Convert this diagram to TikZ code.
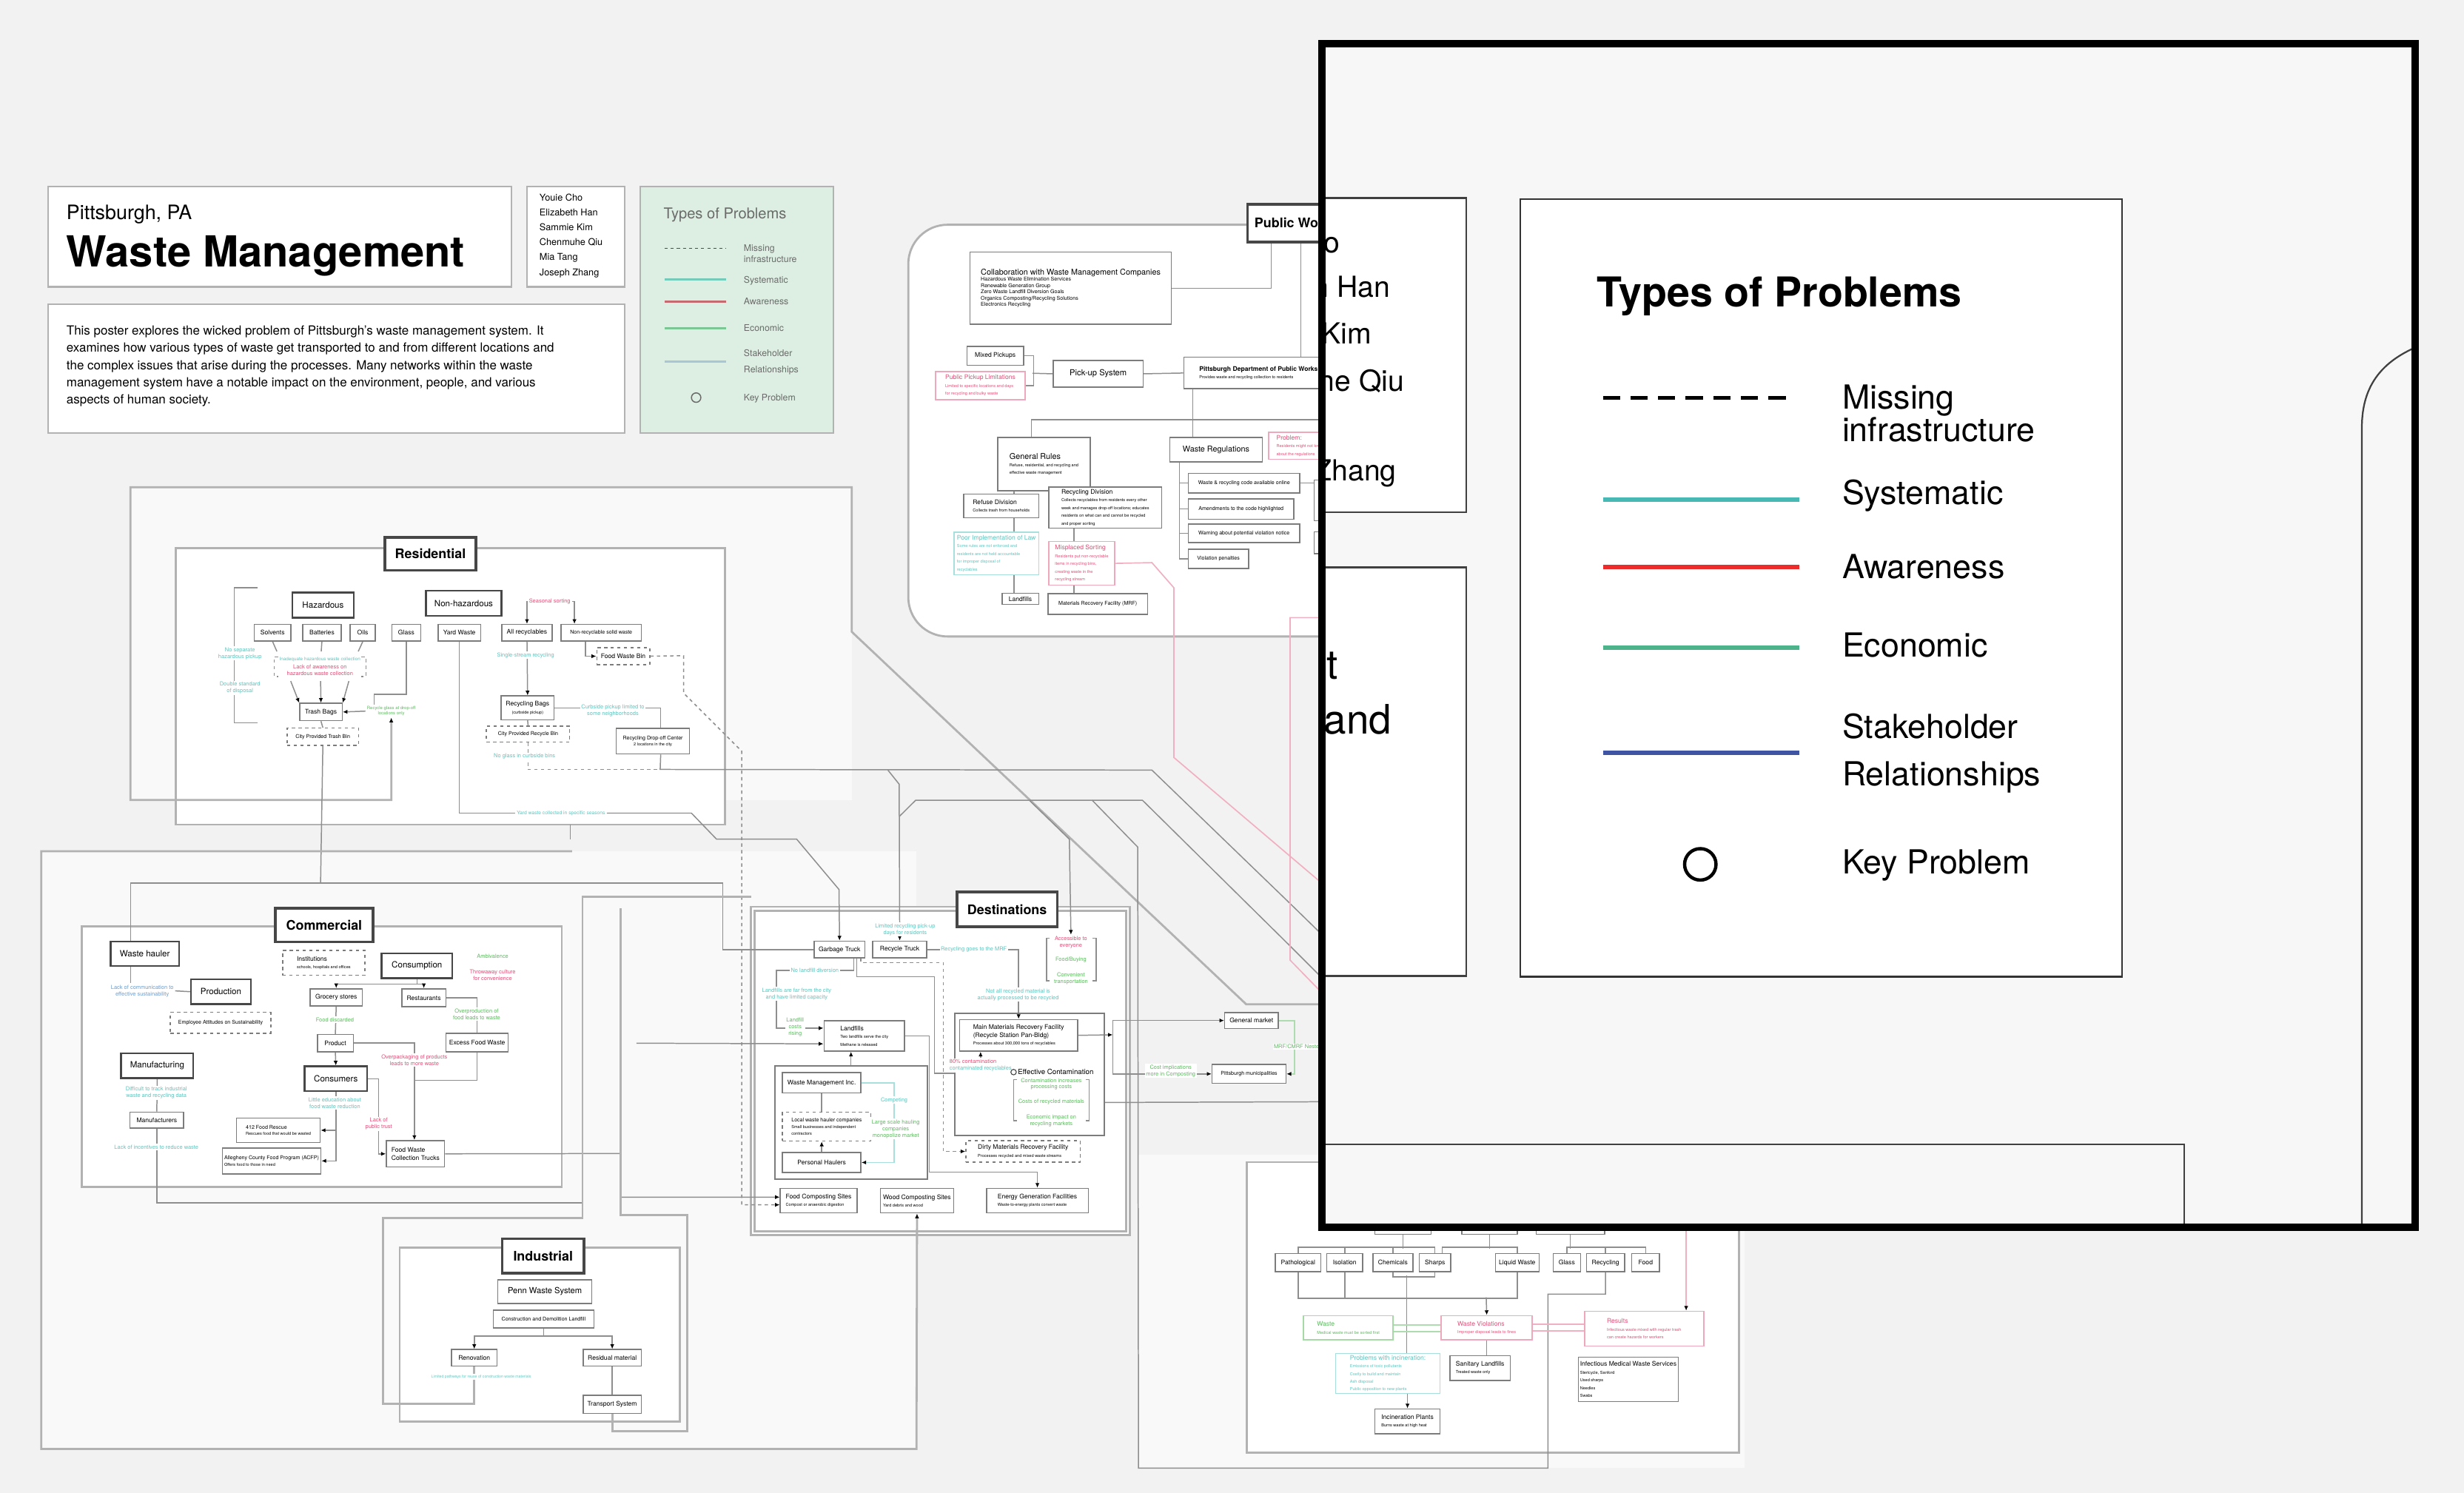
\documentclass[tikz,border=0pt]{standalone}
\usepackage{fontspec}
\setmainfont{TeX Gyre Heros}
\usetikzlibrary{positioning,arrows.meta}
\pgfdeclarelayer{back}
\pgfdeclarelayer{wires}
\pgfsetlayers{back,wires,main}
\definecolor{bgpage}{HTML}{F1F2F1}
\definecolor{framegray}{HTML}{B2B2B2}
\definecolor{linegray}{HTML}{8E8E8E}
\definecolor{boxgray}{HTML}{7C7C7C}
\definecolor{headgray}{HTML}{474747}
\definecolor{systeal}{HTML}{5EC4BE}
\definecolor{awred}{HTML}{DF4F78}
\definecolor{ecogreen}{HTML}{5CBA5E}
\definecolor{stakeblue}{HTML}{6E9CC9}
\definecolor{legfill}{HTML}{DCEFE2}
\definecolor{leggray}{HTML}{6B6B6B}
\definecolor{legteal}{HTML}{74CBB9}
\definecolor{legred}{HTML}{C66A71}
\definecolor{leggreen}{HTML}{7CC595}
\definecolor{legblue}{HTML}{A9C6D4}
\definecolor{insteal}{HTML}{48B8B4}
\definecolor{insred}{HTML}{EE2B2B}
\definecolor{insgreen}{HTML}{4DB38A}
\definecolor{insblue}{HTML}{3F55A4}
\newcommand{\dtl}{\fontsize{1.5}{1.9}\selectfont}

\begin{document}
\begin{tikzpicture}[x=0.02cm,y=-0.02cm,
    nw/.style={anchor=north west},
    wh/.style 2 args={minimum width=#1*0.02cm,minimum height=#2*0.02cm},
    frm/.style={draw=framegray,line width=0.75pt},
    ln/.style={draw=linegray,line width=0.4pt},
    dln/.style={ln,dash pattern=on 1.2pt off 1.2pt},
    pln/.style={draw=awred!45,line width=0.45pt},
    gln/.style={draw=ecogreen!50,line width=0.5pt},
    tln/.style={draw=systeal!55,line width=0.4pt},
    arr/.style={-{Latex[length=1.7pt,width=1.5pt,color=black]}},
    box/.style={draw=boxgray,fill=white,line width=0.4pt,inner sep=0.6pt,align=center,font=\fontsize{2.3}{2.8}\selectfont},
    boxb/.style={box,draw=headgray,line width=0.65pt,font=\fontsize{3.1}{3.7}\selectfont},
    hbox/.style={box,draw=headgray,line width=1pt,font=\fontsize{4.8}{5.6}\selectfont\bfseries},
    dbox/.style={box,dash pattern=on 1.2pt off 1.2pt},
    rbox/.style={box,draw=awred!50,text=awred},
    tbox/.style={box,draw=systeal!55,text=systeal},
    gbox/.style={box,draw=ecogreen!55,text=ecogreen},
    grp/.style={draw=boxgray,line width=0.55pt,inner sep=0},
    tny/.style={font=\fontsize{1.9}{2.3}\selectfont},
    tnote/.style={fill=white,inner sep=0.4pt,align=center,text=systeal,font=\fontsize{2}{2.4}\selectfont},
    rnote/.style={tnote,text=awred},
    gnote/.style={tnote,text=ecogreen},
    bnote/.style={tnote,text=stakeblue},
    panel/.style={draw=framegray,fill=white,line width=0.6pt},
    leglbl/.style={anchor=base west,inner sep=0,text=leggray,font=\fontsize{3.3}{4}\selectfont},
    biglbl/.style={anchor=base west,inner sep=0,font=\fontsize{12}{14}\selectfont},
    inname/.style={anchor=base east,inner sep=0,font=\fontsize{10.5}{12}\selectfont},
    keyc/.style={draw=headgray,circle,inner sep=0,minimum size=0.07cm,line width=0.3pt}]

\useasboundingbox (0,0) rectangle (1568,950);
\begin{pgfonlayer}{back}
\fill[bgpage] (0,0) rectangle (1568,950);
\fill[white!55!bgpage] (83,310) rectangle (542,509);
\fill[white!55!bgpage] (26.3,541.7) rectangle (583,922);
\fill[white!55!bgpage] (724.5,734.8) rectangle (1110,934.2);
\draw[frm,fill=white,rounded corners=0.5cm] (860,143) -- (578,143) -- (578,405) -- (860,405);
\draw[frm,fill=white] (112,348.6) rectangle (461.4,524.7);
\draw[frm,fill=white] (52.1,589.6) rectangle (357.5,755.2);
\draw[frm,fill=white] (254.3,793.7) rectangle (432.5,904.4);
\draw[frm,fill=white] (477.7,577) rectangle (719,785.8);
\draw[frm] (480.3,579.4) rectangle (716.6,783.5);
\draw[frm,fill=white] (793.5,739.5) rectangle (1106.7,924.5);
\end{pgfonlayer}

\node[panel,nw,wh={295}{64}] (titlebox) at (30,118) {};
\node[anchor=base west,inner sep=0,font=\fontsize{7.2}{8}\selectfont] (city) at (42,139.5) {Pittsburgh, PA};
\node[anchor=base west,inner sep=0,font=\fontsize{15.5}{17}\selectfont\bfseries] (maintitle) at (42,170) {Waste Management};
\node[panel,nw,wh={62}{64}] (namebox) at (335,118) {};
\node[nw,inner sep=0,align=left,font=\fontsize{3.4}{5.4}\selectfont] (names) at (343,123) {Youie Cho\\Elizabeth Han\\Sammie Kim\\Chenmuhe Qiu\\Mia Tang\\Joseph Zhang};
\node[panel,nw,wh={367}{82}] (descbox) at (30,193) {};
\node[nw,inner sep=0,align=left,font=\fontsize{4.55}{6.25}\selectfont] (desc) at (42,207) {This poster explores the wicked problem of Pittsburgh's waste management system. It\\examines how various types of waste get transported to and from different locations and\\the complex issues that arise during the processes. Many networks within the waste\\management system have a notable impact on the environment, people, and various\\aspects of human society.};

\node[nw,draw=framegray,fill=legfill,line width=0.6pt,wh={123}{157}] (legend) at (407,118) {};
\node[anchor=base west,inner sep=0,text=leggray,font=\fontsize{5.4}{6}\selectfont] (legtitle) at (422,139) {Types of Problems};
\draw[black!70,line width=0.45pt,dash pattern=on 1.1pt off 1.1pt] (423,158) -- (462,158);
\node[leglbl] (lg1) at (473,160) {Missing};
\node[leglbl] (lg2) at (473,167) {infrastructure};
\draw[legteal,line width=0.8pt] (423,178) -- (462,178);
\node[leglbl] (lg3) at (473,180) {Systematic};
\draw[legred,line width=0.8pt] (423,192) -- (462,192);
\node[leglbl] (lg4) at (473,194) {Awareness};
\draw[leggreen,line width=0.8pt] (423,209) -- (462,209);
\node[leglbl] (lg5) at (473,211) {Economic};
\draw[legblue,line width=0.9pt] (423,230) -- (462,230);
\node[leglbl] (lg6) at (473,227) {Stakeholder};
\node[leglbl] (lg7) at (473,237) {Relationships};
\draw[leggray,line width=0.4pt] (443,253) circle [radius=0.06cm];
\node[leglbl] (lg8) at (473,255) {Key Problem};

\begin{scope}
\clip (0,0) rectangle (841,950);
\node[hbox,nw,wh={62}{24},text depth=0pt] (pw) at (793,129) {Public Works};
\end{scope}
\node[box,nw,wh={128}{46},align=left,tny] (collab) at (617,160) {{\fontsize{2.9}{3.5}\selectfont Collaboration with Waste Management Companies}\\Hazardous Waste Elimination Services\\Renewable Generation Group\\Zero Waste Landfill Diversion Goals\\Organics Composting/Recycling Solutions\\Electronics Recycling};
\node[box,nw,wh={36}{12}] (mixed) at (615,220) {Mixed Pickups};
\node[rbox,nw,wh={57}{18},align=left] (pubpick) at (595,236) {Public Pickup Limitations\\{\dtl Limited to specific locations and days}\\{\dtl for recycling and bulky waste}};
\node[box,nw,wh={57}{17},font=\fontsize{3}{3.6}\selectfont] (pickup) at (670,229) {Pick-up System};
\node[box,nw,wh={95}{20},align=left] (pghdpw) at (753,227) {\textbf{Pittsburgh Department of Public Works}\\{\dtl Provides waste and recycling collection to residents}};
\node[box,nw,wh={59}{34},align=left] (genrules) at (634.5,278) {{\fontsize{2.9}{3.5}\selectfont General Rules}\\{\dtl Refuse, residential, and recycling and}\\{\dtl effective waste management}};
\node[box,nw,wh={59}{15.5},font=\fontsize{2.9}{3.5}\selectfont] (wasteregs) at (744,278) {Waste Regulations};
\node[rbox,nw,wh={40}{17.4},align=left] (problem) at (807,274.6) {Problem:\\{\dtl Residents might not know}\\{\dtl about the regulations}};
\node[box,nw,wh={47.6}{15},align=left] (refuse) at (613,314) {Refuse Division\\{\dtl Collects trash from households}};
\node[box,nw,wh={72}{26.2},align=left] (recdiv) at (667,309.5) {Recycling Division\\{\dtl Collects recyclables from residents every other}\\{\dtl week and manages drop-off locations; educates}\\{\dtl residents on what can and cannot be recycled}\\{\dtl and proper sorting}};
\node[tbox,nw,wh={54}{27},align=left] (poorimpl) at (606.7,338.4) {Poor Implementation of Law\\{\dtl Some rules are not enforced and}\\{\dtl residents are not held accountable}\\{\dtl for improper disposal of}\\{\dtl recyclables}};
\node[rbox,nw,wh={42}{27.7},align=left] (misplaced) at (667,344.3) {Misplaced Sorting\\{\dtl Residents put non-recyclable}\\{\dtl items in recycling bins,}\\{\dtl creating waste in the}\\{\dtl recycling stream}};
\node[box,nw,wh={23.3}{7}] (pwland) at (637.3,377.2) {Landfills};
\node[box,nw,wh={63.5}{13},tny] (pwmrf) at (666.5,377.5) {Materials Recovery Facility (MRF)};
\node[box,nw,wh={71}{12.5},tny] (reg1) at (755.8,300.8) {Waste \& recycling code available online};
\node[box,nw,wh={67.2}{13},tny] (reg2) at (755.8,317) {Amendments to the code highlighted};
\node[box,nw,wh={71}{11.8},tny] (reg3) at (755.8,333.2) {Warning about potential violation notice};
\node[box,nw,wh={38.4}{12.1},tny] (reg4) at (755.8,349.2) {Violation penalties};
\node[box,nw,wh={20}{26}] (regr1) at (836,305) {};
\node[box,nw,wh={20}{14}] (regr2) at (836,338) {};

\node[hbox,nw,wh={58}{21}] (restitle) at (244,341) {Residential};
\node[boxb,nw,wh={39}{16}] (hazard) at (185.5,376.5) {Hazardous};
\node[boxb,nw,wh={48}{16}] (nonhaz) at (270.5,375.3) {Non-hazardous};
\node[box,nw,wh={23.4}{10.5}] (solv) at (161.4,397) {Solvents};
\node[box,nw,wh={24.6}{10.5}] (batt) at (192.2,397) {Batteries};
\node[box,nw,wh={16}{10.5}] (oils) at (222.5,397) {Oils};
\node[box,nw,wh={18.2}{10.5}] (glass) at (249.1,397) {Glass};
\node[box,nw,wh={27.1}{10.5}] (yard) at (278.4,397) {Yard Waste};
\node[box,nw,wh={32}{10.5}] (allrec) at (319,397) {All recyclables};
\node[box,nw,wh={51}{10.5},tny] (nonrec) at (356.7,397) {Non-recyclable solid waste};
\node[dbox,nw,wh={33.7}{11}] (foodbin) at (379.4,411.7) {Food Waste Bin};
\node[box,nw,wh={27}{11}] (trashbag) at (190.4,447.2) {Trash Bags};
\node[dbox,nw,wh={45.6}{10.9},tny] (citytrash) at (182.3,463) {City Provided Trash Bin};
\node[box,nw,wh={33.8}{15.2}] (recbags) at (318.5,442.5) {Recycling Bags\\{\dtl (curbside pickup)}};
\node[dbox,nw,wh={53}{10.2},tny] (cityrec) at (309.2,461.6) {City Provided Recycle Bin};
\node[box,nw,wh={46.8}{16.2},tny] (dropoff) at (391.7,463.2) {Recycling Drop-off Center\\{\dtl 2 locations in the city}};
\node[rnote] (seasonal) at (349.8,382.8) {Seasonal sorting};
\node[tnote,font=\fontsize{1.7}{2}\selectfont] (hazinad) at (203.6,419.6) {Inadequate hazardous waste collection};
\node[rnote] (hazaware) at (203.6,426.4) {Lack of awareness on\\hazardous waste collection};
\node[gnote,font=\fontsize{1.6}{2}\selectfont] (glassnote) at (249,452.5) {Recycle glass at drop-off\\locations only};
\node[tnote] (sepnote) at (152.7,415.8) {No separate\\hazardous pickup};
\node[tnote] (dblnote) at (152.7,437.7) {Double standard\\of disposal};
\node[tnote] (singlenote) at (334.5,416.9) {Single-stream recycling};
\node[tnote] (curbnote) at (390,452.3) {Curbside pickup limited to\\some neighborhoods};
\node[tnote] (glassbin) at (333.8,481.3) {No glass in curbside bins};
\node[tnote,font=\fontsize{1.8}{2.2}\selectfont] (yardnote) at (357,517.4) {Yard waste collected in specific seasons};

\node[hbox,nw,wh={62.4}{21.5}] (comtitle) at (174.2,577) {Commercial};
\node[boxb,nw,wh={43.4}{15.7}] (wastehauler) at (69.9,598.5) {Waste hauler};
\node[bnote] (haulernote) at (90.5,630.5) {Lack of communication to\\effective sustainability};
\node[boxb,nw,wh={38}{15.7}] (production) at (121,622.6) {Production};
\node[dbox,nw,wh={64}{13.3},tny] (employee) at (108,643.8) {Employee Attitudes on Sustainability};
\node[dbox,nw,wh={52.3}{15.7},align=left] (institutions) at (179.5,604.5) {Institutions\\{\dtl schools, hospitals and offices}};
\node[boxb,nw,wh={44.9}{15.7}] (consumption) at (242.3,606.1) {Consumption};
\node[gnote] (ambiv) at (313.5,608.4) {Ambivalence};
\node[rnote] (throwaway) at (313.5,620.5) {Throwaway culture\\for convenience};
\node[box,nw,wh={33.2}{11}] (grocery) at (197,628.8) {Grocery stores};
\node[box,nw,wh={28.1}{11.5}] (restaurants) at (255.3,628.8) {Restaurants};
\node[gnote] (foodnote) at (213.1,648.8) {Food discarded};
\node[box,nw,wh={22.9}{11}] (product) at (201.6,657.9) {Product};
\node[boxb,nw,wh={39.9}{15.7}] (consumers) at (193.2,678) {Consumers};
\node[rnote] (overpack) at (263.7,674.4) {Overpackaging of products\\leads to more waste};
\node[gnote] (overprod) at (303.3,645.3) {Overproduction of\\food leads to waste};
\node[box,nw,wh={39.7}{11.8}] (excessfood) at (283.4,657.1) {Excess Food Waste};
\node[rnote] (publictrust) at (241,715.2) {Lack of\\public trust};
\node[tnote] (littleedu) at (213.1,701.8) {Little education about\\food waste reduction};
\node[box,nw,wh={53.2}{15.7},align=left,tny] (rescue) at (150.2,711) {412 Food Rescue\\{\dtl Rescues food that would be wasted}};
\node[box,nw,wh={62.8}{16.5},align=left,tny] (acfp) at (141.1,730.1) {Allegheny County Food Program (ACFP)\\{\dtl Offers food to those in need}};
\node[box,nw,wh={37.1}{16.9},align=left] (foodtrucks) at (245.5,725.4) {Food Waste\\Collection Trucks};
\node[boxb,nw,wh={45.9}{15.7}] (manufacturing) at (76.5,669.7) {Manufacturing};
\node[tnote] (manufnote) at (99.5,695.3) {Difficult to track industrial\\waste and recycling data};
\node[box,nw,wh={34.1}{10.2}] (manufacturers) at (82.4,707.3) {Manufacturers};
\node[tnote] (manufnote2) at (99.5,729.8) {Lack of incentives to reduce waste};

\node[hbox,nw,wh={52.1}{22}] (indtitle) at (318.7,787.4) {Industrial};
\node[box,nw,wh={59.9}{14.9},font=\fontsize{3}{3.6}\selectfont] (pennwaste) at (316.4,814.1) {Penn Waste System};
\node[box,nw,wh={64.1}{11.3},tny] (cdlandfill) at (313.5,833.4) {Construction and Demolition Landfill};
\node[box,nw,wh={28.9}{10.6}] (renov) at (287,858.4) {Renovation};
\node[box,nw,wh={36.9}{10.6}] (residual) at (370.8,858.4) {Residual material};
\node[box,nw,wh={36.9}{11.4}] (transport) at (370.8,887.6) {Transport System};
\node[tnote,font=\fontsize{1.4}{1.8}\selectfont] (renovnote) at (306.2,876.1) {Limited pathways for reuse of construction waste materials};

\node[hbox,nw,wh={64}{22}] (desttitle) at (608,566.8) {Destinations};
\node[box,nw,wh={32.2}{10.7}] (garbage) at (517.8,598.5) {Garbage Truck};
\node[box,nw,wh={34.4}{10.7}] (recycle) at (555,598.5) {Recycle Truck};
\node[tnote] (recnote) at (576,591.5) {Limited recycling pick-up\\days for residents};
\node[tnote] (mrfnote) at (619.7,603.9) {Recycling goes to the MRF};
\node[tnote] (notallnote) at (647.9,633) {Not all recycled material is\\actually processed to be recycled};
\node[rnote] (accnote) at (681.5,599.6) {Accessible to\\everyone};
\node[gnote] (buynote) at (681.5,610.8) {Food/Buying};
\node[gnote] (convnote) at (681.5,622.5) {Convenient\\transportation};
\node[tnote] (garbnote1) at (518.5,617.5) {No landfill diversion};
\node[tnote] (garbnote2) at (507,632.5) {Landfills are far from the city\\and have limited capacity};
\node[gnote] (landgreen) at (506,653.5) {Landfill\\costs\\rising};
\node[box,nw,wh={51.3}{19.3},align=left] (landfills) at (524,649.2) {Landfills\\{\dtl Two landfills serve the city}\\{\dtl Methane is released}};
\node[grp,nw,wh={97.1}{71.8}] (haulgrp) at (492.5,677.9) {};
\node[box,nw,wh={49.9}{13}] (wmi) at (497.6,682.2) {Waste Management Inc.};
\node[dbox,nw,wh={56.2}{18.4},align=left,tny] (localhaul) at (497.6,707.3) {Local waste hauler companies\\{\dtl Small businesses and independent}\\{\dtl contractors}};
\node[box,nw,wh={49.9}{12.9}] (personal) at (497.6,732.9) {Personal Haulers};
\node[tnote] (competing) at (569,700) {Competing};
\node[gnote] (largescale) at (570,718.5) {Large scale hauling\\companies\\monopolize market};
\node[grp,nw,wh={95.4}{77.7}] (mrfgrp) at (606.9,644.2) {};
\node[box,nw,wh={75.1}{20.1},align=left] (mainmrf) at (610.3,648.4) {Main Materials Recovery Facility\\(Recycle Station Pan-Bldg)\\{\dtl Processes about 300,000 tons of recyclables}};
\node[rnote,align=left] (contam) at (624,678) {80\% contamination\\\textcolor{systeal}{contaminated recyclables}};
\node[keyc] (keymrf) at (645,682.2) {};
\node[anchor=west,inner sep=0,font=\fontsize{2.6}{3}\selectfont] (effcont) at (647.5,682.2) {Effective Contamination};
\node[gnote] (costnote) at (669,689.8) {Contamination increases\\processing costs};
\node[gnote] (recmat) at (669,701) {Costs of recycled materials};
\node[gnote] (econimp) at (669,713) {Economic impact on\\recycling markets};
\node[dbox,nw,wh={72.8}{13.8},align=left] (dirtymrf) at (614.3,725.4) {Dirty Materials Recovery Facility\\{\dtl Processes recycled and mixed waste streams}};
\node[box,nw,wh={48.8}{15.7},align=left] (foodcomp) at (496.2,755.8) {Food Composting Sites\\{\dtl Compost or anaerobic digestion}};
\node[box,nw,wh={46.8}{15.7},align=left] (woodcomp) at (559.8,755.8) {Wood Composting Sites\\{\dtl Yard debris and wood}};
\node[box,nw,wh={64.8}{15.7},align=left] (energy) at (627.4,755.8) {Energy Generation Facilities\\{\dtl Waste-to-energy plants convert waste}};
\node[box,nw,wh={34}{10}] (genmarket) at (779,644) {General market};
\node[box,nw,wh={47}{12},tny] (pghmuni) at (771,677) {Pittsburgh municipalities};
\node[gnote] (costimp) at (745,681.4) {Cost implications\\more in Composting};
\node[gnote] (nested) at (826,666) {MRF/CMRF Nested};

\node[box,nw,wh={35.8}{15}] (tb1) at (874.6,770) {};
\node[box,nw,wh={35.3}{15}] (tb2) at (930,770) {};
\node[box,nw,wh={43.4}{15}] (tb3) at (977.3,770) {};
\node[box,nw,wh={28.9}{11.6}] (pathological) at (811.3,797.3) {Pathological};
\node[box,nw,wh={22.7}{11.6}] (isolation) at (844,797.3) {Isolation};
\node[box,nw,wh={25.3}{11.6}] (chem) at (873.4,797.3) {Chemicals};
\node[box,nw,wh={20.2}{11.6}] (sharps) at (902.7,797.3) {Sharps};
\node[box,nw,wh={27.8}{11.6}] (liquid) at (951.2,797.3) {Liquid Waste};
\node[box,nw,wh={17.4}{11.6}] (glass2) at (988,797.3) {Glass};
\node[box,nw,wh={24.3}{11.6}] (recycling) at (1009.2,797.3) {Recycling};
\node[box,nw,wh={17.7}{11.6}] (food2) at (1038,797.3) {Food};
\node[gbox,nw,wh={56.9}{15.4},align=left] (wastebox) at (829.2,836.8) {Waste\\{\dtl Medical waste must be sorted first}};
\node[rbox,nw,wh={57.9}{15.4},align=left] (violations) at (916.8,836.8) {Waste Violations\\{\dtl Improper disposal leads to fines}};
\node[rbox,nw,wh={75.8}{22.2},align=left] (results) at (1008,834) {Results\\{\dtl Infectious waste mixed with regular trash}\\{\dtl can create hazards for workers}};
\node[box,nw,wh={38.3}{15.7},align=left] (sanitary) at (922.4,862.3) {Sanitary Landfills\\{\dtl Treated waste only}};
\node[tbox,nw,wh={66.4}{25.4},align=left] (probinc) at (849.6,860.9) {Problems with incineration:\\{\dtl Emissions of toxic pollutants}\\{\dtl Costly to build and maintain}\\{\dtl Ash disposal}\\{\dtl Public opposition to new plants}};
\node[box,nw,wh={41.4}{15.7},align=left] (incin) at (874.6,896.2) {Incineration Plants\\{\dtl Burns waste at high heat}};
\node[box,nw,wh={62.5}{28.3},align=left] (infectious) at (1004.1,863.2) {Infectious Medical Waste Services\\{\dtl Stericycle, Sanford}\\{\dtl Used sharps}\\{\dtl Needles}\\{\dtl Swabs}};

\begin{pgfonlayer}{wires}
\coordinate (pwl) at ([xshift=-0.32cm]pw.south);
\draw[ln] (collab.east) -| (pwl);
\coordinate (pwr) at ([xshift=0.06cm]pw.south);
\draw[ln] (pwr) -- (pwr |- pghdpw.north);
\draw[ln] (mixed.east) -- ++(6,0) |- (pubpick.east);
\coordinate (pkj) at (657,237.5);
\draw[ln] (pkj) -- (pickup.west);
\draw[ln] (pickup.east) -- (pghdpw.west);
\coordinate (pwv) at (759,247);
\draw[ln] (pwv) -- (pwv |- wasteregs.north);
\coordinate (grbus) at ([xshift=-0.16cm]genrules.north);
\coordinate (pwbusend) at (860,267);
\draw[ln] (grbus) |- (pwbusend);
\coordinate (grl) at ([xshift=-0.38cm]genrules.south);
\draw[ln] (grl) -- (grl |- pwland.north);
\coordinate (grr) at ([xshift=0.38cm]genrules.south);
\draw[ln] (grr) -- (grr |- pwmrf.north);
\coordinate (wrv) at (750.5,293.5);
\draw[ln] (wrv) |- (reg4.west);
\draw[ln] (wrv |- reg1.west) -- (reg1.west);
\draw[ln] (wrv |- reg2.west) -- (reg2.west);
\draw[ln] (wrv |- reg3.west) -- (reg3.west);
\draw[ln] (reg1.east) -- (reg1.east -| regr1.west);

\draw[frm,arr] (860,639) -- (793,639) -- (542,402) -- (542,310) -- (83,310) -- (83,509) -- (249,509) -- (glassnote.south);
\draw[ln,arr] (seasonal.west) -| (allrec.north);
\coordinate (nrin) at ([xshift=-0.34cm]nonrec.north);
\draw[ln,arr] (seasonal.east) -| (nrin);
\coordinate (nrout) at ([xshift=-0.2cm]nonrec.south);
\draw[ln,arr] (nrout) |- (foodbin.west);
\coordinate (fcin) at ([yshift=-0.053cm]foodcomp.west);
\draw[dln,arr] (foodbin.east) -- (435,417.2) -- (435,441) -- (472,478) |- (fcin);
\coordinate (hz1) at (176.2,414.5);
\coordinate (hz2) at (204.4,414.5);
\coordinate (hz3) at (228,414.5);
\draw[ln] (solv.south) -- (hz1);
\draw[ln] (batt.south) -- (hz2);
\draw[ln] (oils.south) -- (hz3);
\coordinate (hz4) at (185,433.4);
\coordinate (hz5) at (204,433.4);
\coordinate (hz6) at (222,433.4);
\draw[ln,arr] (hz4) -- (trashbag.north west);
\draw[ln,arr] (hz5) -- (trashbag.north);
\draw[ln,arr] (hz6) -- (trashbag.north east);
\draw[dln] (177,418) -- (174.4,418) -- (174.4,430.5) -- (177,430.5);
\draw[dln] (230,418) -- (232.8,418) -- (232.8,430.5) -- (230,430.5);
\coordinate (glj) at ([xshift=-0.22cm]glassnote.north);
\draw[ln] (glass.south) -- ++(0,33.5) -| (glj);
\draw[ln,arr] (glassnote.west) -- (trashbag.east);
\draw[ln] (164,374) -- (149,374) -- (149,460) -- (164,460);
\draw[ln] (trashbag.south) -- (citytrash.north);
\coordinate (comtop) at (204,561.8);
\draw[ln] (citytrash.south) -- (comtop);
\draw[ln,arr] (allrec.south) -- (recbags.north);
\coordinate (drin) at ([xshift=0.1cm]dropoff.north);
\draw[ln] (recbags.east) -| (drin);
\draw[ln] (recbags.south) -- (cityrec.north);
\coordinate (drout) at ([xshift=0.1cm]dropoff.south);
\coordinate (bus490) at (420.1,489.6);
\draw[dln] (cityrec.south) |- (bus490);
\coordinate (east490) at (860,613);
\draw[ln] (drout) -- (bus490) -- (733,490) -- (820,574) -- (east490);
\draw[ln] (yard.south) |- (yardnote.west);
\draw[ln,arr] (yardnote.east) -- (440,517.4) -- (456,534) -- (507,534) -- (533.9,566) -- (garbage.north);
\draw[ln] (363,524.7) -- (363,534);

\draw[frm,arr] (364,541.7) -- (26.3,541.7) -- (26.3,922) -- (583.2,922) -- (woodcomp.south);
\coordinate (whn) at ([xshift=-0.18cm]wastehauler.north);
\draw[ln] (whn) |- (460,561.8) |- (garbage.west);
\coordinate (whs) at ([xshift=-0.18cm]wastehauler.south);
\draw[ln] (whs) -- (whs |- haulernote.north);
\draw[ln] (haulernote.east) -- (production.west);
\draw[ln,arr] (consumption.south) -- ++(0,3.2) -| (grocery.north);
\draw[ln,arr] (consumption.south) -- ++(0,3.2) -| (restaurants.north);
\draw[ln] (grocery.south) -- (product.north);
\draw[ln,arr] (product.south) -- (consumers.north);
\coordinate (ovj) at (263.7,687.4);
\draw[ln] (product.east) -| (ovj);
\draw[ln,arr] (ovj) -- (ovj |- foodtrucks.north);
\draw[ln] (restaurants.east) -| (excessfood.north);
\draw[ln] (excessfood.south) |- (ovj);
\draw[ln,arr] (consumers.east) -| (241,700) |- (foodtrucks.west);
\draw[ln,arr] (consumers.south) |- (rescue.east);
\draw[ln,arr] (consumers.south) |- (acfp.east);
\draw[ln] (manufacturing.south) -- (manufacturers.north);
\coordinate (manend) at (370.6,765.4);
\draw[ln] (manufacturers.south) |- (manend);
\coordinate (fcin2) at ([yshift=0.045cm]foodcomp.west);
\draw[ln,arr] (foodtrucks.east) -- (395,734) |- (fcin2);

\draw[ln,arr] (cdlandfill.south) -- ++(0,4.8) -| (renov.north);
\draw[ln,arr] (cdlandfill.south) -- ++(0,4.8) -| (residual.north);
\coordinate (destnw) at (478,570.7);
\draw[frm] (renov.south) |- (243.7,893.4) |- (370.7,774.9) |- (destnw);
\draw[ln] (residual.south) -- (transport.north);
\draw[frm] (transport.south) |- (437.2,910.7) -- (437.2,773.3) -- (395,773.3) -- (395,578);

\coordinate (g1) at ([xshift=0.18cm]garbage.south);
\coordinate (lfa) at ([yshift=0.1cm]landfills.west);
\draw[ln,arr] (g1) |- (494,617.5) |- (lfa);
\coordinate (g2) at ([xshift=0.22cm]garbage.south);
\coordinate (mrfin) at (606.9,683);
\draw[ln] (g2) |- (594.6,621.4) |- (mrfin);
\coordinate (g3) at ([xshift=0.27cm]garbage.south);
\draw[dln,arr] (g3) |- (600.2,612.5) |- (dirtymrf.west);
\draw[ln,arr] (recycle.east) -| (mainmrf.north);
\draw[ln,arr] (landfills.east) -| (591.3,745.8) -| (energy.north);
\coordinate (lfin) at (405,663.8);
\coordinate (lfb) at ([yshift=-0.1cm]landfills.west);
\draw[ln,arr] (lfin) -- (lfb);
\draw[ln,arr] (haulgrp.north) -- (haulgrp.north |- landfills.south);
\draw[ln] (wmi.south) -- (wmi.south |- localhaul.north);
\draw[ln,arr] (personal.north) -- (personal.north |- localhaul.south);
\draw[tln,arr] (wmi.east) -| (569,722) |- (personal.east);
\draw[ln,arr] (contam.north) -- (contam.north |- mainmrf.south);
\draw[ln] (647,687) -- (645.1,687) -- (645.1,713) -- (647,713);
\draw[ln] (691,687) -- (693.1,687) -- (693.1,713) -- (691,713);
\coordinate (mktj) at (708.1,658.45);
\draw[ln,arr] (mainmrf.east) -- (mktj);
\draw[ln,arr] (mktj) |- (genmarket.west);
\draw[ln,arr] (mktj) |- (pghmuni.west);
\draw[gln,arr] (genmarket.east) -- ++(10,0) |- (pghmuni.east);
\coordinate (mrfout) at (860,701);
\coordinate (mrfe) at ([yshift=-0.36cm]mrfgrp.east);
\draw[ln] (mrfe) -- (mrfout);
\draw[ln] (668,597) -- (666,597) -- (666,624) -- (668,624);
\draw[ln] (695,597) -- (697.5,597) -- (697.5,624) -- (695,624);

\draw[ln,arr] (565,490) -- (572.2,499) -- (recycle.north);
\coordinate (east509) at (860,641);
\draw[ln] (572.2,519.6) -- (582.7,509.2) -- (727,509.2) -- (820,601) -- (east509);
\draw[ln,arr] (655,509.2) -- (680.5,534) -- (accnote.north);
\draw[ln] (recycling.south) |- (985,823.5) -- (985,934.2) -- (724.5,934.2) -- (724,539) -- (695,509.2);
\coordinate (pk0) at (860,578);
\draw[pln] (misplaced.east) -- (733,358) -- (747,374) -- (747,482) -- (pk0);
\coordinate (pk1) at (860,393);
\coordinate (pk2) at (860,651);
\draw[pln] (pk1) -- (821,393) -- (821,611) -- (pk2);
\coordinate (pk3) at (1073,770);
\draw[pln,arr] (pk3) -- (pk3 |- results.north);

\draw[ln] (pathological.north) -- ++(0,-3.6) -| (sharps.north);
\draw[ln] (isolation.north) -- ++(0,-3.6);
\draw[ln] (chem.north) -- ++(0,-3.6);
\draw[ln] (tb1.south) -- ++(0,8.7);
\coordinate (shn) at ([xshift=0.09cm]sharps.north);
\draw[ln] (shn) -- ++(0,-3.6) -| (liquid.north);
\draw[ln] (tb2.south) -- ++(0,8.7);
\draw[ln] (glass2.north) -- ++(0,-3.6) -| (food2.north);
\draw[ln] (recycling.north) -- ++(0,-3.6);
\draw[ln] (tb3.south) -- ++(0,8.7);
\draw[ln] (pathological.south) -- ++(0,16.6) -| (liquid.south);
\draw[ln] (isolation.south) -- ++(0,16.6);
\coordinate (busv) at (945.75,825.5);
\draw[ln,arr] (busv) -- (violations.north);
\draw[ln] (chem.south) -- ++(0,2.8) -| (sharps.south);
\coordinate (bk1) at (895.1,811.7);
\draw[ln] (bk1) -- (bk1 |- probinc.north);
\coordinate (we1) at ([yshift=0.034cm]wastebox.east);
\coordinate (we2) at ([yshift=-0.05cm]wastebox.east);
\draw[gln] (we1) -- (we1 -| violations.west);
\draw[gln] (we2) -- (we2 -| violations.west);
\coordinate (ve1) at ([yshift=0.044cm]violations.east);
\coordinate (ve2) at ([yshift=-0.042cm]violations.east);
\draw[pln] (ve1) -- (ve1 -| results.west);
\draw[pln] (ve2) -- (ve2 -| results.west);
\draw[ln] (violations.south) -- (violations.south |- sanitary.north);
\draw[ln,arr] (incin.north |- probinc.south) -- (incin.north);
\end{pgfonlayer}

\begin{scope}
\clip (841,28) rectangle (1537,781);
\fill[white!97!black] (841,28) rectangle (1537,781);
\draw[black!75,line width=0.6pt,fill=white] (780,126) rectangle (933,326);
\node[inname] (inname1) at (853,161) {o};
\node[inname] (inname2) at (885,189) {h Han};
\node[inname] (inname3) at (873,219) {Kim};
\node[inname] (inname4) at (894,249) {he Qiu};
\node[inname] (inname6) at (889,306) {Zhang};
\draw[black!75,line width=0.6pt,fill=white] (780,361) rectangle (933,621);
\node[inname,font=\fontsize{14.7}{16}\selectfont] (indesc1) at (852,432) {It};
\node[inname,font=\fontsize{14.7}{16}\selectfont] (indesc2) at (886,467) {and};
\node[draw=black!80,fill=white,line width=0.6pt,nw,wh={383}{495}] (biglegend) at (967,126) {};
\node[anchor=base west,inner sep=0,font=\fontsize{14.9}{17}\selectfont\bfseries] (bigtitle) at (1016,195) {Types of Problems};
\draw[black,line width=1.3pt,dash pattern=on 6.2pt off 3.8pt] (1020,253) -- (1141,253);
\node[biglbl] (bl1) at (1172,260) {Missing};
\node[biglbl] (bl2) at (1172,281) {infrastructure};
\draw[insteal,line width=1.6pt] (1020,318) -- (1145,318);
\node[biglbl] (bl3) at (1172,321) {Systematic};
\draw[insred,line width=1.6pt] (1020,361) -- (1145,361);
\node[biglbl] (bl4) at (1172,368) {Awareness};
\draw[insgreen,line width=1.6pt] (1020,412) -- (1145,412);
\node[biglbl] (bl5) at (1172,418) {Economic};
\draw[insblue,line width=1.6pt] (1020,479) -- (1145,479);
\node[biglbl] (bl6) at (1172,470) {Stakeholder};
\node[biglbl] (bl7) at (1172,500) {Relationships};
\draw[black,line width=1.2pt] (1082,550) circle [radius=0.2cm];
\node[biglbl] (bl8) at (1172,556) {Key Problem};
\draw[black!75,line width=0.6pt] (830,728) -- (1390,728) -- (1390,790);
\draw[black!75,line width=0.6pt] (1503,790) -- (1503,272) .. controls (1503,245) and (1516,228) .. (1545,218);
\end{scope}
\draw[line width=2.7pt] (841,28) rectangle (1537,781);
\end{tikzpicture}
\end{document}
